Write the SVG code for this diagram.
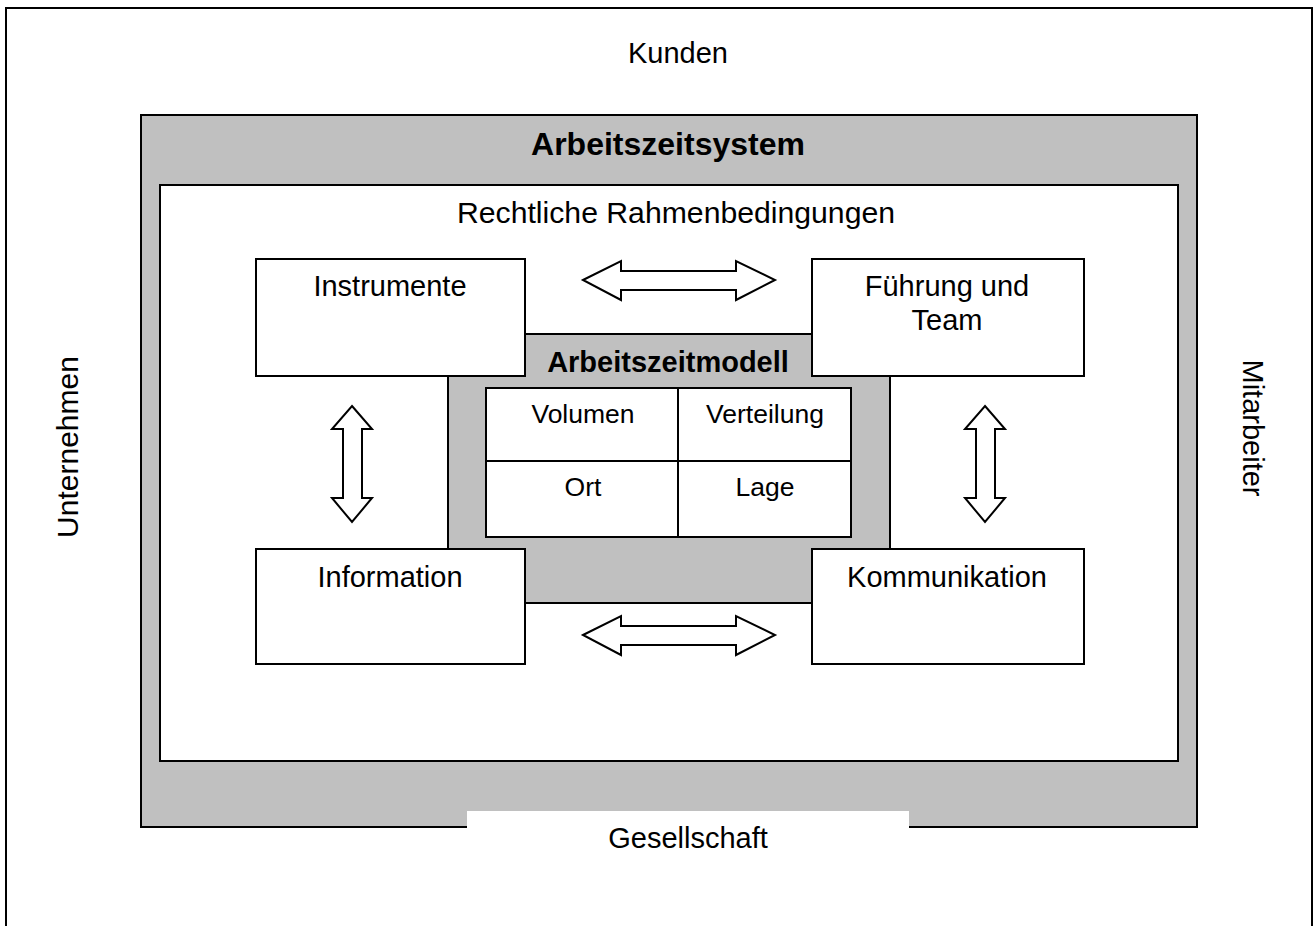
<svg xmlns="http://www.w3.org/2000/svg" width="1313" height="926" viewBox="0 0 1313 926">
<style>
text{font-family:"Liberation Sans",Arial,sans-serif;fill:#000}
.t{font-size:29px;text-anchor:middle}
.b{font-weight:bold;text-anchor:middle}
.s{font-size:26.5px;text-anchor:middle}
.box{fill:#fff;stroke:#000;stroke-width:2}
.gray{fill:#c0c0c0;stroke:#000;stroke-width:2}
.arr{fill:#fff;stroke:#000;stroke-width:2;stroke-linejoin:miter}
</style>
<rect width="1313" height="926" fill="#fff"/>
<g id="frame">
<rect x="6" y="8" width="1306" height="940" fill="#fff" stroke="#000" stroke-width="2"/>
<text class="t" x="678" y="63">Kunden</text>
<text class="t" transform="translate(78,447) rotate(-90)" style="font-size:30px">Unternehmen</text>
<text class="t" transform="translate(1243,428) rotate(90)">Mitarbeiter</text>
</g>
<g id="system">
<rect class="gray" x="141" y="115" width="1056" height="712"/>
<text class="b" x="668" y="155" style="font-size:32px">Arbeitszeitsystem</text>
</g>
<g id="gesellschaft">
<rect x="467" y="811" width="442" height="45" fill="#fff"/>
<text class="t" x="688" y="848">Gesellschaft</text>
</g>
<g id="rahmen">
<rect class="box" x="160" y="185" width="1018" height="576"/>
<text class="t" x="676" y="223" style="font-size:30.2px">Rechtliche Rahmenbedingungen</text>
</g>
<g id="modell">
<rect class="gray" x="448" y="334" width="442" height="269"/>
<text class="b" x="668" y="372" style="font-size:29px">Arbeitszeitmodell</text>
<rect class="box" x="486" y="388" width="365" height="149"/>
<line x1="678" y1="388" x2="678" y2="537" stroke="#000" stroke-width="2"/>
<line x1="486" y1="461" x2="851" y2="461" stroke="#000" stroke-width="2"/>
<text class="s" x="583" y="423">Volumen</text>
<text class="s" x="765" y="423">Verteilung</text>
<text class="s" x="583" y="496">Ort</text>
<text class="s" x="765" y="496">Lage</text>
</g>
<g id="instrumente">
<rect class="box" x="256" y="259" width="269" height="117"/>
<text class="t" x="390" y="296">Instrumente</text>
</g>
<g id="fuehrung">
<rect class="box" x="812" y="259" width="272" height="117"/>
<text class="t" x="947" y="296">Führung und</text>
<text class="t" x="947" y="330">Team</text>
</g>
<g id="information">
<rect class="box" x="256" y="549" width="269" height="115"/>
<text class="t" x="390" y="587">Information</text>
</g>
<g id="kommunikation">
<rect class="box" x="812" y="549" width="272" height="115"/>
<text class="t" x="947" y="587">Kommunikation</text>
</g>
<g id="connectors">
<polygon class="arr" points="583,280 621,261 621,271 736,271 736,261 775,280 736,300 736,290 621,290 621,300"/>
<polygon class="arr" points="583,635 621,616 621,626 736,626 736,616 775,635 736,655 736,645 621,645 621,655"/>
<polygon class="arr" points="352,406 372,429 362,429 362,498 372,498 352,522 332,498 343,498 343,429 332,429"/>
<polygon class="arr" points="985,406 1005,429 995,429 995,498 1005,498 985,522 965,498 976,498 976,429 965,429"/>
</g>
</svg>
